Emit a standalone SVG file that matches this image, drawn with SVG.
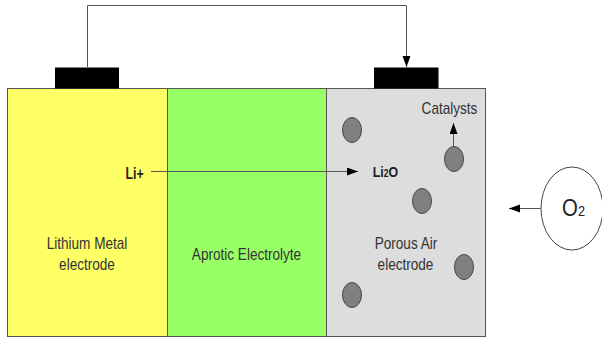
<svg xmlns="http://www.w3.org/2000/svg" width="602" height="339" viewBox="0 0 602 339">
<style>
text{font-family:"Liberation Sans",Arial,sans-serif;fill:#333;font-size:14px;text-anchor:middle}
.b{fill:#222;font-weight:bold}
.cell{stroke:#555;stroke-width:1}
.pad{fill:#000}
.dot{fill:#808080;stroke:#444;stroke-width:1}
.wire{fill:none;stroke:#555;stroke-width:1}
</style>
<defs>
<marker id="arr" markerUnits="userSpaceOnUse" markerWidth="12" markerHeight="10" refX="11" refY="4" orient="auto"><path d="M0 0L11 4L0 8Z" fill="#000"/></marker>
</defs>
<rect width="602" height="339" fill="#fff"/>
<g id="lithium-electrode"><rect class="cell" x="7.500" y="88.500" width="160" height="248" fill="#ffff66"/>
<text transform="translate(87 249) scale(.97 1.15)">Lithium Metal</text>
<text transform="translate(87 270) scale(.97 1.15)">electrode</text></g>
<g id="electrolyte"><rect class="cell" x="167.500" y="88.500" width="159" height="248" fill="#99ff66"/>
<text transform="translate(246.500 260) scale(.97 1.15)">Aprotic Electrolyte</text></g>
<g id="air-electrode"><rect class="cell" x="326.500" y="88.500" width="159" height="248" fill="#dddddd"/>
<text transform="translate(406 249) scale(.97 1.15)">Porous Air</text>
<text transform="translate(405.500 270) scale(.97 1.15)">electrode</text></g>
<g id="left-terminal"><rect class="pad" x="55" y="67.500" width="64" height="21"/></g>
<g id="right-terminal"><rect class="pad" x="374" y="67.500" width="64.500" height="21"/></g>
<g id="catalysts">
<ellipse class="dot" cx="352" cy="130" rx="9.500" ry="12.500"/>
<ellipse class="dot" cx="454" cy="159" rx="9.500" ry="12.500"/>
<ellipse class="dot" cx="422" cy="201" rx="9.500" ry="12.500"/>
<ellipse class="dot" cx="464" cy="267" rx="9.500" ry="12.500"/>
<ellipse class="dot" cx="352" cy="295" rx="9.500" ry="12.500"/>
<text transform="translate(449.500 114) scale(.97 1.15)">Catalysts</text></g>
<g id="labels">
<text class="b" transform="translate(134.500 179) scale(.95 1.2)" style="font-size:13px">Li+</text>
<text class="b" transform="translate(385.500 177) scale(.95 1.15)" style="font-size:13px">Li<tspan font-size="9">2</tspan>O</text></g>
<g id="oxygen"><ellipse cx="572" cy="208.500" rx="31" ry="41.500" fill="#fff" stroke="#444"/>
<text transform="translate(573.500 216) scale(.85 1)" style="font-size:24px;fill:#222">O<tspan font-size="15">2</tspan></text></g>
<g id="connectors">
<path class="wire" d="M87.500 67V5.500H406.500V67" marker-end="url(#arr)"/>
<path class="wire" d="M151 171.500H358" marker-end="url(#arr)"/>
<path class="wire" d="M453.500 146V123" marker-end="url(#arr)"/>
<path class="wire" d="M541 208.500H509" marker-end="url(#arr)"/>
</g>
</svg>
